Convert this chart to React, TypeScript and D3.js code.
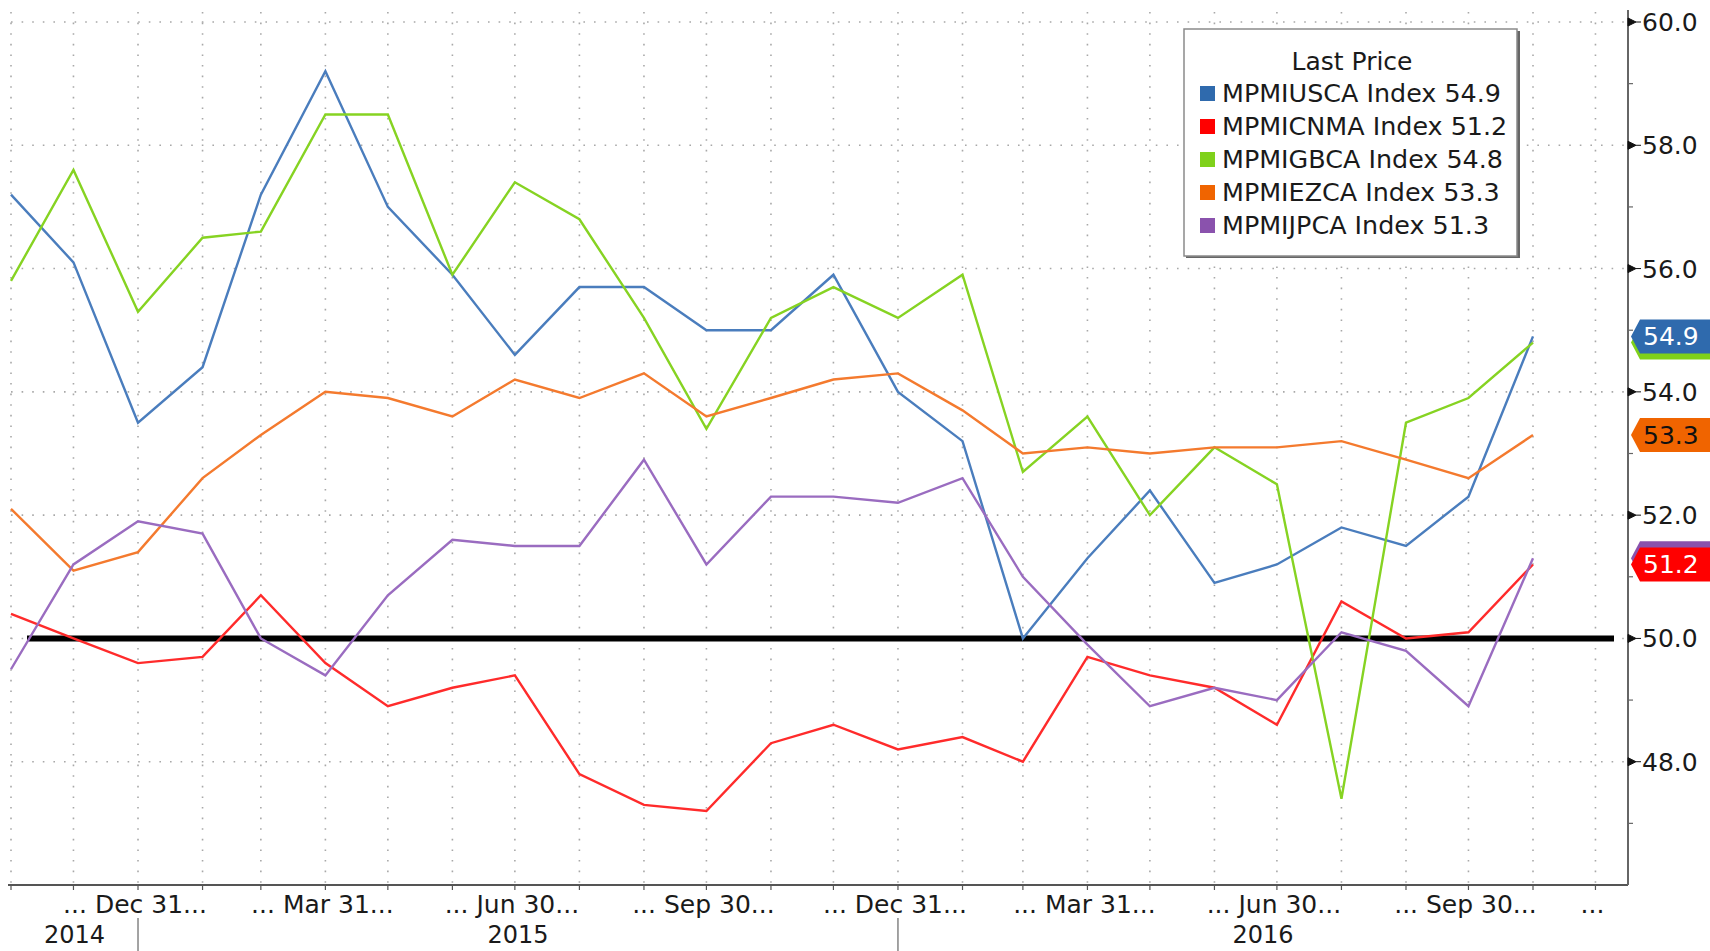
import { useEffect, useRef } from "react";
import * as d3 from "d3";

// Month-end observation dates (Oct 2014 - Oct 2016)
const dates = [
  "2014-10-31", "2014-11-30", "2014-12-31",
  "2015-01-31", "2015-02-28", "2015-03-31", "2015-04-30", "2015-05-31", "2015-06-30",
  "2015-07-31", "2015-08-31", "2015-09-30", "2015-10-31", "2015-11-30", "2015-12-31",
  "2016-01-31", "2016-02-29", "2016-03-31", "2016-04-30", "2016-05-31", "2016-06-30",
  "2016-07-31", "2016-08-31", "2016-09-30", "2016-10-31",
];

const usca = [57.2, 56.1, 53.5, 54.4, 57.2, 59.2, 57.0, 55.9, 54.6, 55.7, 55.7, 55.0, 55.0, 55.9, 54.0, 53.2, 50.0, 51.3, 52.4, 50.9, 51.2, 51.8, 51.5, 52.3, 54.9];
const cnma = [50.4, 50.0, 49.6, 49.7, 50.7, 49.6, 48.9, 49.2, 49.4, 47.8, 47.3, 47.2, 48.3, 48.6, 48.2, 48.4, 48.0, 49.7, 49.4, 49.2, 48.6, 50.6, 50.0, 50.1, 51.2];
const gbca = [55.8, 57.6, 55.3, 56.5, 56.6, 58.5, 58.5, 55.9, 57.4, 56.8, 55.2, 53.4, 55.2, 55.7, 55.2, 55.9, 52.7, 53.6, 52.0, 53.1, 52.5, 47.4, 53.5, 53.9, 54.8];
const ezca = [52.1, 51.1, 51.4, 52.6, 53.3, 54.0, 53.9, 53.6, 54.2, 53.9, 54.3, 53.6, 53.9, 54.2, 54.3, 53.7, 53.0, 53.1, 53.0, 53.1, 53.1, 53.2, 52.9, 52.6, 53.3];
const jpca = [49.5, 51.2, 51.9, 51.7, 50.0, 49.4, 50.7, 51.6, 51.5, 51.5, 52.9, 51.2, 52.3, 52.3, 52.2, 52.6, 51.0, 49.9, 48.9, 49.2, 49.0, 50.1, 49.8, 48.9, 51.3];

const seriesNames = ["MPMIUSCA Index", "MPMICNMA Index", "MPMIGBCA Index", "MPMIEZCA Index", "MPMIJPCA Index"];
const seriesValues = [usca, cnma, gbca, ezca, jpca];
const lineColors = ["#4a7dbd", "#ff2b2b", "#86d322", "#f47a2e", "#9a6cc0"];
const swatchColors = ["#2f6aad", "#ff0000", "#7fd11b", "#f06400", "#8a52ad"];
const badgeText = ["#ffffff", "#ffffff", "#ffffff", "#111111", "#ffffff"];
// badges drawn in this order so blue sits over green and red over purple;
// the covered ones (green, purple) show only a sliver, no readable text
const badgeOrder = [2, 0, 3, 4, 1];
const badgeCovered = [false, false, true, false, true];

const yTicks = [48, 50, 52, 54, 56, 58, 60];
const yMinorTicks = [47, 49, 51, 53, 55, 57, 59];
const xLabels = [
  { date: "2014-12-31", text: "... Dec 31..." },
  { date: "2015-03-31", text: "... Mar 31..." },
  { date: "2015-06-30", text: "... Jun 30..." },
  { date: "2015-09-30", text: "... Sep 30..." },
  { date: "2015-12-31", text: "... Dec 31..." },
  { date: "2016-03-31", text: "... Mar 31..." },
  { date: "2016-06-30", text: "... Jun 30..." },
  { date: "2016-09-30", text: "... Sep 30..." },
  { date: "2016-11-30", text: "..." },
];
const years = ["2014", "2015", "2016"];
const yearBreaks = ["2014-12-31", "2015-12-31"];

const W = 1710;
const H = 951;
const FONT = "'DejaVu Sans', Verdana, sans-serif";

export default function App() {
  const svgRef = useRef<SVGSVGElement>(null);

  useEffect(() => {
    if (!svgRef.current) return;
    const svg = d3.select(svgRef.current);
    svg.selectAll("*").remove();

    const plotLeft = 8;
    const plotRight = 1628;
    const plotTop = 10;
    const plotBottom = 885;

    const parse = (s: string) => new Date(s + "T00:00:00Z");
    const x = d3
      .scaleUtc()
      .domain([parse(dates[0]), parse(dates[dates.length - 1])])
      .range([11, 1533]);
    const y = d3.scaleLinear().domain([46, 60]).range([plotBottom, 22]);

    // monthly grid (month ends, one past the last point)
    const gridDates = d3
      .utcMonth.range(parse("2014-11-01"), parse("2016-12-02"))
      .map((d) => d3.utcDay.offset(d, -1));

    const grid = svg
      .append("g")
      .attr("stroke", "#a8a8a8")
      .attr("stroke-width", 1.6)
      .attr("stroke-dasharray", "1.6,9");

    grid
      .selectAll("line.v")
      .data(gridDates)
      .join("line")
      .attr("x1", (d) => x(d))
      .attr("x2", (d) => x(d))
      .attr("y1", plotTop + 2)
      .attr("y2", plotBottom);

    grid
      .selectAll("line.h")
      .data(yTicks)
      .join("line")
      .attr("x1", plotLeft + 3)
      .attr("x2", plotRight)
      .attr("y1", (d) => y(d))
      .attr("y2", (d) => y(d));

    // reference line at 50
    svg
      .append("line")
      .attr("x1", 27)
      .attr("x2", 1614)
      .attr("y1", y(50))
      .attr("y2", y(50))
      .attr("stroke", "#000")
      .attr("stroke-width", 6);

    // series lines
    const line = d3
      .line<number>()
      .x((_, i) => x(parse(dates[i])))
      .y((d) => y(d));

    svg
      .append("g")
      .selectAll("path")
      .data(seriesValues)
      .join("path")
      .attr("d", (d) => line(d))
      .attr("fill", "none")
      .attr("stroke", (_, i) => lineColors[i])
      .attr("stroke-width", 2.4)
      .attr("stroke-linejoin", "miter");

    // bottom axis
    svg
      .append("line")
      .attr("x1", plotLeft)
      .attr("x2", plotRight)
      .attr("y1", plotBottom)
      .attr("y2", plotBottom)
      .attr("stroke", "#555")
      .attr("stroke-width", 2);

    svg
      .append("g")
      .selectAll("line")
      .data(gridDates)
      .join("line")
      .attr("x1", (d) => x(d))
      .attr("x2", (d) => x(d))
      .attr("y1", plotBottom)
      .attr("y2", plotBottom + 5)
      .attr("stroke", "#555")
      .attr("stroke-width", 1.2);

    svg
      .append("g")
      .selectAll("text")
      .data(xLabels)
      .join("text")
      .attr("x", (d) => x(parse(d.date)) - 3)
      .attr("y", 913)
      .attr("text-anchor", "middle")
      .attr("font-family", FONT)
      .attr("font-size", 25)
      .attr("fill", "#1a1a1a")
      .text((d) => d.text);

    // year separators and labels
    const breaks = yearBreaks.map((d) => x(parse(d)));
    svg
      .append("g")
      .selectAll("line")
      .data(breaks)
      .join("line")
      .attr("x1", (d) => d)
      .attr("x2", (d) => d)
      .attr("y1", 918)
      .attr("y2", H)
      .attr("stroke", "#666")
      .attr("stroke-width", 1.2);

    const edges = [11, ...breaks, plotRight];
    svg
      .append("g")
      .selectAll("text")
      .data(years)
      .join("text")
      .attr("x", (_, i) => (edges[i] + edges[i + 1]) / 2)
      .attr("y", 943)
      .attr("text-anchor", "middle")
      .attr("font-family", FONT)
      .attr("font-size", 24)
      .attr("fill", "#1a1a1a")
      .text((d) => d);

    // right axis
    svg
      .append("line")
      .attr("x1", plotRight)
      .attr("x2", plotRight)
      .attr("y1", plotTop)
      .attr("y2", plotBottom)
      .attr("stroke", "#666")
      .attr("stroke-width", 2);

    svg
      .append("g")
      .selectAll("line")
      .data(yMinorTicks)
      .join("line")
      .attr("x1", plotRight)
      .attr("x2", plotRight + 5)
      .attr("y1", (d) => y(d))
      .attr("y2", (d) => y(d))
      .attr("stroke", "#666")
      .attr("stroke-width", 1.2);

    const yAxis = svg.append("g");
    yAxis
      .selectAll("path")
      .data(yTicks)
      .join("path")
      .attr("d", (d) => `M${plotRight},${y(d) - 4}L${plotRight + 8},${y(d)}L${plotRight},${y(d) + 4}Z M${plotRight + 8},${y(d)}H${plotRight + 13}`)
      .attr("fill", "#111")
      .attr("stroke", "#111")
      .attr("stroke-width", 1);
    yAxis
      .selectAll("text")
      .data(yTicks)
      .join("text")
      .attr("x", 1642)
      .attr("y", (d) => y(d) + 9)
      .attr("font-family", FONT)
      .attr("font-size", 25)
      .attr("fill", "#1a1a1a")
      .text((d) => d.toFixed(1));

    // last-value badges
    const badges = svg.append("g");
    badgeOrder.forEach((i) => {
      const v = seriesValues[i][seriesValues[i].length - 1];
      const cy = y(v);
      const g = badges.append("g");
      g.append("path")
        .attr("d", `M1631,${cy}L1640,${cy - 17}H${W}V${cy + 17}H1640Z`)
        .attr("fill", swatchColors[i]);
      if (badgeCovered[i]) return;
      g.append("text")
        .attr("x", 1643)
        .attr("y", cy + 9)
        .attr("font-family", FONT)
        .attr("font-size", 25)
        .attr("fill", badgeText[i])
        .text(v.toFixed(1));
    });

    // legend
    const legend = svg.append("g").attr("transform", "translate(1184,29)");
    legend
      .append("rect")
      .attr("x", 2)
      .attr("y", 2)
      .attr("width", 334)
      .attr("height", 227)
      .attr("fill", "#666");
    legend
      .append("rect")
      .attr("width", 333)
      .attr("height", 227)
      .attr("fill", "#fff")
      .attr("stroke", "#8a8a8a")
      .attr("stroke-width", 1.5);
    legend
      .append("text")
      .attr("x", 168)
      .attr("y", 41)
      .attr("text-anchor", "middle")
      .attr("font-family", FONT)
      .attr("font-size", 25)
      .attr("fill", "#1a1a1a")
      .text("Last Price");

    seriesNames.forEach((name, i) => {
      const ly = 73 + i * 33;
      const v = seriesValues[i][seriesValues[i].length - 1];
      legend
        .append("rect")
        .attr("x", 16)
        .attr("y", ly - 16)
        .attr("width", 15)
        .attr("height", 15)
        .attr("fill", swatchColors[i]);
      legend
        .append("text")
        .attr("x", 38)
        .attr("y", ly)
        .attr("font-family", FONT)
        .attr("font-size", 25.4)
        .attr("fill", "#1a1a1a")
        .text(`${name} ${v.toFixed(1)}`);
    });
  }, []);

  return (
    <svg
      ref={svgRef}
      width={W}
      height={H}
      style={{ position: "absolute", left: 0, top: 0, background: "#fff" }}
    />
  );
}
